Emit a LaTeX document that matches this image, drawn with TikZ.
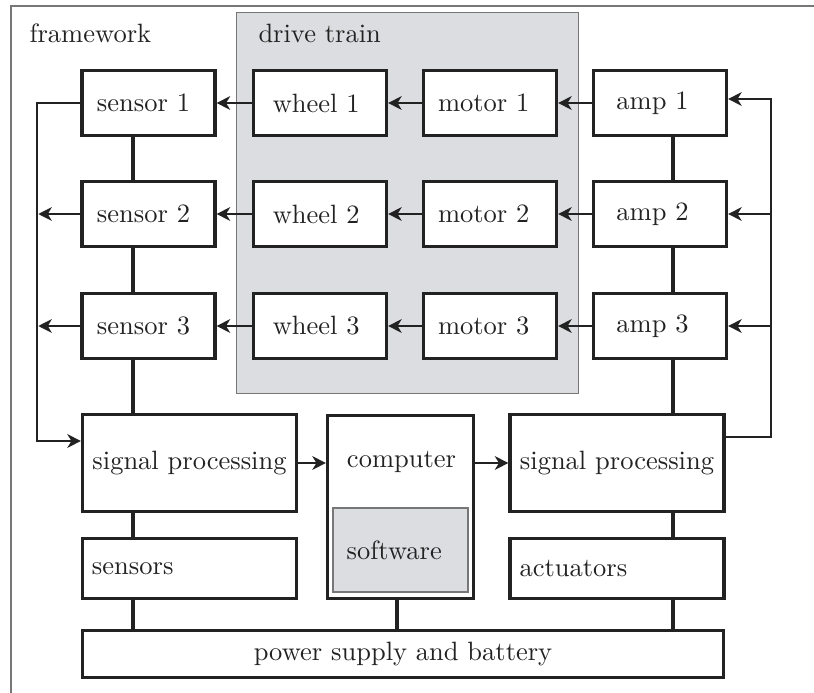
\documentclass[tikz,border=0pt]{standalone}
\usepackage{fontspec}
\usetikzlibrary{arrows.meta}
\definecolor{ink}{HTML}{222222}
\definecolor{dtgray}{HTML}{DCDDE0}
\definecolor{framegray}{HTML}{777777}
\begin{document}
\begin{tikzpicture}[x=0.4pt,y=-0.4pt,
  font=\fontsize{10.6pt}{13pt}\selectfont, text=ink,
  box/.style={draw=ink, line width=1.25pt, fill=white, inner sep=3.8pt},
  rowbox/.style={box, minimum width=53.2pt, minimum height=26pt},
  wide/.style={box, minimum width=85.6pt},
  conn/.style={draw=ink, line width=1.8pt},
  arr/.style={draw=ink, line width=1.05pt, -{Stealth[length=5.4pt,width=5.4pt,inset=1.6pt]}},
  lbl/.style={inner sep=0pt}
]
\useasboundingbox (0,0) rectangle (814,693);
% framework
\draw[framegray, line width=0.6pt] (814,6) -- (11,6) -- (11,693);
\node[lbl, anchor=west] (fwl) at (29,33) {framework};
% drive train
\node[draw=framegray, line width=0.4pt, fill=dtgray, minimum width=136.4pt, minimum height=152pt, inner sep=0pt] (dt) at (407.5,203) {};
\node[lbl, anchor=west] (dtl) at (258,33) {drive train};

% rows
\foreach \i/\y in {1/103,2/214,3/326}{
  \node[rowbox] (s\i) at (148.5,\y) {sensor \i\kern4pt};
  \node[rowbox] (w\i) at (320,\y) {wheel \i\kern3pt};
  \node[rowbox] (m\i) at (490,\y) {motor \i\kern5pt};
  \node[rowbox] (a\i) at (660,\y) {amp \i\kern6pt};
  \draw[arr] (w\i) -- (s\i);
  \draw[arr] (m\i) -- (w\i);
  \draw[arr] (a\i) -- (m\i);
}

% lower blocks
\node[wide, minimum height=38.8pt] (spL) at (189.5,463) {signal processing};
\node[wide, minimum height=38.8pt] (spR) at (617,463) {signal processing};
\node[box, minimum width=58.4pt, minimum height=73.2pt] (comp) at (400.5,507) {};
\node[lbl] (compt) at (401.5,462) {computer};
\node[draw=framegray, line width=0.6pt, fill=dtgray, minimum width=54pt, minimum height=33.6pt, inner sep=0pt] (sw) at (400.5,550) {software\kern5pt};
\node[wide, minimum height=24pt, text width=78pt, align=left] (sens) at (189.5,568.5) {sensors};
\node[wide, minimum height=24pt, text width=78pt, align=left] (act) at (617,568.5) {actuators};
\node[box, minimum width=256.4pt, minimum height=18.8pt] (pow) at (403,654) {power supply and battery};

% column coordinates
\coordinate (lc) at (133,0);
\coordinate (rc) at (673,0);
\coordinate (cc) at (397,0);
\coordinate (lx) at (37,0);
\coordinate (rx) at (771,0);

% thick connectors
\draw[conn] (s1.south -| lc) -- (s2.north -| lc);
\draw[conn] (s2.south -| lc) -- (s3.north -| lc);
\draw[conn] (s3.south -| lc) -- (spL.north -| lc);
\draw[conn] (spL.south -| lc) -- (sens.north -| lc);
\draw[conn] (sens.south -| lc) -- (pow.north -| lc);
\draw[conn] (a1.south -| rc) -- (a2.north -| rc);
\draw[conn] (a2.south -| rc) -- (a3.north -| rc);
\draw[conn] (a3.south -| rc) -- (spR.north -| rc);
\draw[conn] (spR.south -| rc) -- (act.north -| rc);
\draw[conn] (act.south -| rc) -- (pow.north -| rc);
\draw[conn] (comp.south -| cc) -- (pow.north -| cc);

% data flow
\draw[arr] (spL.east |- 0,463) -- (comp.west |- 0,463);
\draw[arr] (comp.east |- 0,463) -- (spR.west |- 0,463);

% left feedback
\draw[arr] (s1.west) -- (s1.west -| lx) -- (lx |- 0,441) -- (spL.west |- 0,441);
\draw[arr] (s2.west) -- ([xshift=0.5pt]s2.west -| lx);
\draw[arr] (s3.west) -- ([xshift=0.5pt]s3.west -| lx);

% right feedback
\draw[arr] (spR.east |- 0,437) -- (rx |- 0,437) -- (rx |- 0,99) -- (a1.east |- 0,99);
\draw[arr] (a2.east -| rx) -- (a2.east);
\draw[arr] (a3.east -| rx) -- (a3.east);
\end{tikzpicture}
\end{document}
